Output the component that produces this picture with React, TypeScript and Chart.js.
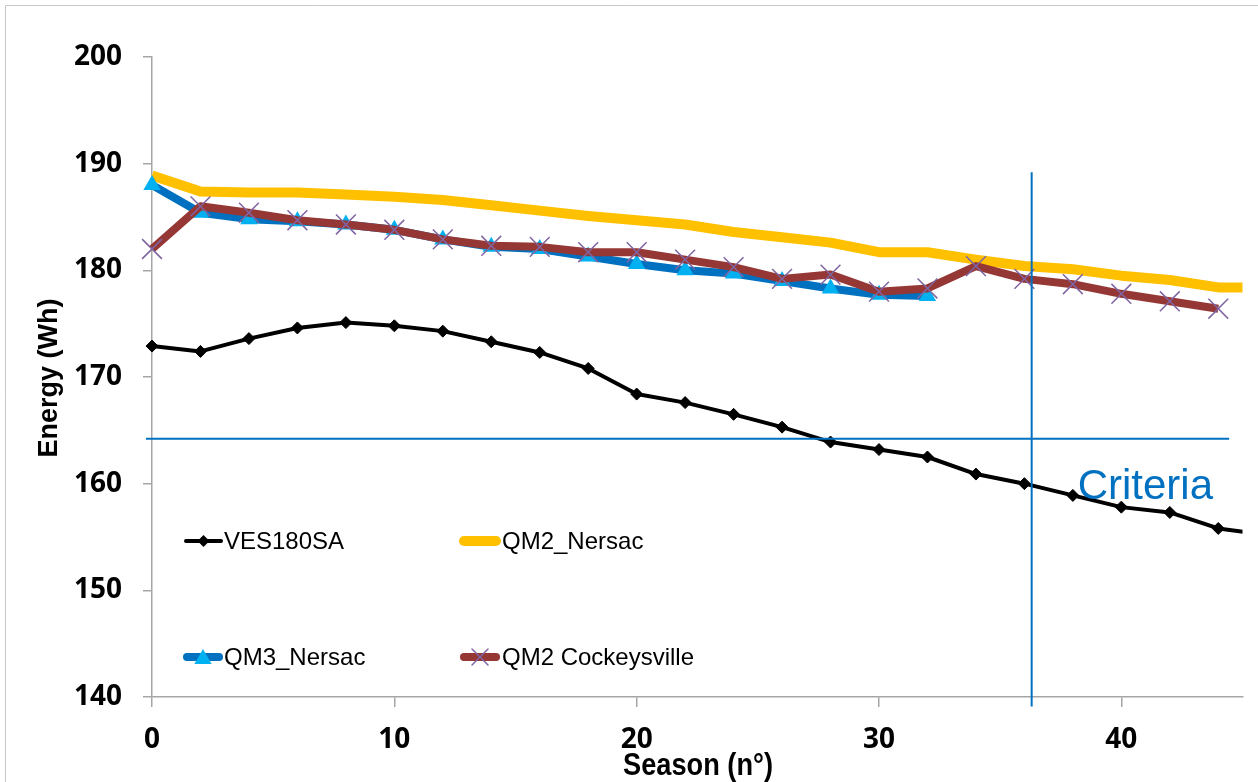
import React, { useEffect, useRef } from 'react';
import { Chart, registerables } from 'chart.js';

Chart.register(...registerables);

// ---- data ----
const seasons = [0, 2, 4, 6, 8, 10, 12, 14, 16, 18, 20, 22, 24, 26, 28, 30, 32, 34, 36, 38, 40, 42, 44, 46];
const vesValues = [172.9, 172.4, 173.6, 174.6, 175.1, 174.8, 174.3, 173.3, 172.3, 170.8, 168.4, 167.6, 166.5, 165.3, 163.9, 163.2, 162.5, 160.9, 160.0, 158.9, 157.8, 157.3, 155.8, 155.2];
const qm2NersacValues = [188.9, 187.4, 187.3, 187.3, 187.1, 186.9, 186.6, 186.1, 185.6, 185.1, 184.7, 184.3, 183.6, 183.1, 182.6, 181.7, 181.7, 181.0, 180.4, 180.1, 179.5, 179.1, 178.4, 178.4];
const qm3NersacValues = [188.0, 185.4, 184.8, 184.6, 184.3, 183.8, 182.9, 182.2, 182.0, 181.3, 180.6, 180.0, 179.7, 179.0, 178.3, 177.7, 177.6];
const qm2CockeysvilleValues = [182.0, 186.0, 185.4, 184.7, 184.3, 183.8, 182.9, 182.3, 182.2, 181.7, 181.7, 181.0, 180.3, 179.2, 179.6, 178.0, 178.3, 180.4, 179.2, 178.7, 177.8, 177.1, 176.4];
const seriesNames = ['VES180SA', 'QM2_Nersac', 'QM3_Nersac', 'QM2 Cockeysville'];
const xTicks = [0, 10, 20, 30, 40];
const yTicks = [140, 150, 160, 170, 180, 190, 200];
const xTitle = 'Season (n°)';
const yTitle = 'Energy (Wh)';
const criteriaLabel = 'Criteria';
const criteriaEnergy = 164.2;
const criteriaSeason = 36.3;
const criteriaHSpan = [-0.25, 44.45];
const criteriaVSpan = [139.1, 189.2];

const toPoints = (vals: number[]) => vals.map((y, i) => ({ x: seasons[i], y }));

const BLACK = '#000000';
const YELLOW = '#FFC000';
const BLUE = '#0070C0';
const CYAN = '#00B0F0';
const RED = '#953735';
const PURPLE = '#8064A2';
const AXIS = '#a6a6a6';
const TICK_FONT = '"Open Sans", "Liberation Sans", sans-serif';

function drawDiamond(ctx: CanvasRenderingContext2D, x: number, y: number, r: number) {
  ctx.beginPath();
  ctx.moveTo(x - r, y);
  ctx.lineTo(x, y - r);
  ctx.lineTo(x + r, y);
  ctx.lineTo(x, y + r);
  ctx.closePath();
  ctx.fillStyle = BLACK;
  ctx.fill();
}
function drawTriangle(ctx: CanvasRenderingContext2D, x: number, y: number, r: number) {
  ctx.beginPath();
  ctx.moveTo(x, y - r);
  ctx.lineTo(x + Math.sin((2 * Math.PI) / 3) * r, y + r / 2);
  ctx.lineTo(x - Math.sin((2 * Math.PI) / 3) * r, y + r / 2);
  ctx.closePath();
  ctx.fillStyle = CYAN;
  ctx.fill();
}
function drawCross(ctx: CanvasRenderingContext2D, x: number, y: number, h: number) {
  ctx.beginPath();
  ctx.moveTo(x - h, y - h);
  ctx.lineTo(x + h, y + h);
  ctx.moveTo(x + h, y - h);
  ctx.lineTo(x - h, y + h);
  ctx.strokeStyle = PURPLE;
  ctx.lineWidth = 1.5;
  ctx.stroke();
}

const decor = {
  id: 'decor',
  beforeDraw(chart: any) {
    const ctx = chart.ctx as CanvasRenderingContext2D;
    ctx.save();
    ctx.fillStyle = '#ffffff';
    ctx.fillRect(0, 0, chart.width, chart.height);
    ctx.strokeStyle = '#c8c8c8';
    ctx.lineWidth = 1;
    ctx.beginPath();
    ctx.moveTo(5.5, chart.height);
    ctx.lineTo(5.5, 5.5);
    ctx.lineTo(chart.width, 5.5);
    ctx.stroke();
    ctx.restore();
  },
  afterDatasetsDraw(chart: any) {
    const ctx = chart.ctx as CanvasRenderingContext2D;
    const xs = chart.scales.x;
    const ys = chart.scales.y;
    ctx.save();
    ctx.strokeStyle = BLUE;
    ctx.lineWidth = 2;
    const hy = ys.getPixelForValue(criteriaEnergy);
    ctx.beginPath();
    ctx.moveTo(xs.getPixelForValue(criteriaHSpan[0]), hy);
    ctx.lineTo(xs.getPixelForValue(criteriaHSpan[1]), hy);
    ctx.stroke();
    const vx = xs.getPixelForValue(criteriaSeason);
    ctx.beginPath();
    ctx.moveTo(vx, ys.getPixelForValue(criteriaVSpan[1]));
    ctx.lineTo(vx, ys.getPixelForValue(criteriaVSpan[0]));
    ctx.stroke();
    ctx.fillStyle = BLUE;
    ctx.font = '42px "Liberation Sans", Arial, sans-serif';
    ctx.textBaseline = 'alphabetic';
    ctx.textAlign = 'left';
    ctx.fillText(criteriaLabel, vx + 46, 499);
    ctx.restore();
  },
  afterDraw(chart: any) {
    const ctx = chart.ctx as CanvasRenderingContext2D;
    ctx.save();
    // axis titles
    ctx.fillStyle = '#000';
    ctx.textAlign = 'center';
    ctx.textBaseline = 'alphabetic';
    ctx.save();
    ctx.translate(698, 775);
    ctx.scale(0.85, 1);
    ctx.font = 'bold 32px "Liberation Sans", Arial, sans-serif';
    ctx.fillText(xTitle, 0, 0);
    ctx.restore();
    ctx.save();
    ctx.translate(50, 378);
    ctx.rotate(-Math.PI / 2);
    ctx.textBaseline = 'middle';
    ctx.font = 'bold 27px "Liberation Sans", Arial, sans-serif';
    ctx.fillText(yTitle, 0, 0);
    ctx.restore();

    // legend
    ctx.lineCap = 'round';
    ctx.strokeStyle = BLACK;
    ctx.lineWidth = 4;
    ctx.beginPath();
    ctx.moveTo(186, 541);
    ctx.lineTo(221, 541);
    ctx.stroke();
    drawDiamond(ctx, 203.5, 541, 6);
    ctx.strokeStyle = YELLOW;
    ctx.lineWidth = 10;
    ctx.beginPath();
    ctx.moveTo(464, 541);
    ctx.lineTo(496, 541);
    ctx.stroke();
    ctx.strokeStyle = BLUE;
    ctx.lineWidth = 8;
    ctx.beginPath();
    ctx.moveTo(187, 657);
    ctx.lineTo(219, 657);
    ctx.stroke();
    drawTriangle(ctx, 203, 659, 10);
    ctx.strokeStyle = RED;
    ctx.lineWidth = 8;
    ctx.beginPath();
    ctx.moveTo(464, 657);
    ctx.lineTo(496, 657);
    ctx.stroke();
    drawCross(ctx, 480, 657, 8);

    ctx.fillStyle = '#000';
    ctx.font = '24px "Liberation Sans", Arial, sans-serif';
    ctx.textAlign = 'left';
    ctx.textBaseline = 'middle';
    ctx.fillText(seriesNames[0], 224, 542);
    ctx.fillText(seriesNames[1], 502, 542);
    ctx.fillText(seriesNames[2], 224, 658);
    ctx.fillText(seriesNames[3], 502, 658);
    ctx.restore();
  },
};

export default function App() {
  const ref = useRef<HTMLCanvasElement | null>(null);
  useEffect(() => {
    if (!ref.current) return;
    const clip = { left: 20, top: 20, right: 0, bottom: 20 };
    const chart = new Chart(ref.current, {
      type: 'line',
      data: {
        datasets: [
          {
            label: seriesNames[0],
            data: toPoints(vesValues),
            borderColor: BLACK,
            backgroundColor: BLACK,
            borderWidth: 4,
            pointStyle: 'rectRot',
            pointRadius: 6,
            pointBorderWidth: 1,
            pointBackgroundColor: BLACK,
            pointBorderColor: BLACK,
            order: 0,
            clip,
          },
          {
            label: seriesNames[1],
            data: toPoints(qm2NersacValues),
            borderColor: YELLOW,
            backgroundColor: YELLOW,
            borderWidth: 10,
            pointRadius: 0,
            order: 3,
            clip,
          },
          {
            label: seriesNames[2],
            data: toPoints(qm3NersacValues),
            borderColor: BLUE,
            backgroundColor: CYAN,
            borderWidth: 8,
            pointStyle: 'triangle',
            pointRadius: 10,
            pointBorderWidth: 0,
            pointBackgroundColor: CYAN,
            pointBorderColor: CYAN,
            order: 2,
            clip,
          },
          {
            label: seriesNames[3],
            data: toPoints(qm2CockeysvilleValues),
            borderColor: RED,
            backgroundColor: RED,
            borderWidth: 8,
            pointStyle: 'crossRot',
            pointRadius: 14,
            pointBorderWidth: 1.5,
            pointBorderColor: PURPLE,
            pointBackgroundColor: PURPLE,
            order: 1,
            clip,
          },
        ] as any,
      },
      options: {
        animation: false,
        responsive: false,
        devicePixelRatio: 1,
        events: [],
        elements: { line: { tension: 0, borderJoinStyle: 'round', borderCapStyle: 'butt' } },
        layout: { padding: { top: 57, right: 13, left: 0, bottom: 0 } },
        plugins: { legend: { display: false }, tooltip: { enabled: false }, title: { display: false } },
        scales: {
          x: {
            type: 'linear',
            min: 0,
            max: 45,
            afterBuildTicks: (s: any) => {
              s.ticks = xTicks.map((v) => ({ value: v }));
            },
            afterFit: (s: any) => {
              s.height = 85;
            },
            grid: { display: true, drawOnChartArea: false, drawTicks: true, tickLength: 10, color: AXIS, lineWidth: 1.5 },
            border: { display: true, color: AXIS, width: 1.5 },
            ticks: {
              color: '#000',
              padding: 16,
              maxRotation: 0,
              autoSkip: false,
              font: { family: TICK_FONT, size: 28, weight: 'bold' },
            },
          },
          y: {
            type: 'linear',
            min: 140,
            max: 200,
            afterBuildTicks: (s: any) => {
              s.ticks = yTicks.map((v) => ({ value: v }));
            },
            afterFit: (s: any) => {
              s.width = 152;
            },
            grid: { display: true, drawOnChartArea: false, drawTicks: true, tickLength: 9, color: AXIS, lineWidth: 1.5 },
            border: { display: true, color: AXIS, width: 1.5 },
            ticks: {
              color: '#000',
              padding: 21,
              autoSkip: false,
              font: { family: TICK_FONT, size: 28, weight: 'bold' },
            },
          },
        },
      } as any,
      plugins: [decor],
    });
    return () => chart.destroy();
  }, []);
  return (
    <canvas
      ref={ref}
      width={1258}
      height={782}
      style={{ position: 'absolute', left: 0, top: 0, width: 1258, height: 782 }}
    />
  );
}
